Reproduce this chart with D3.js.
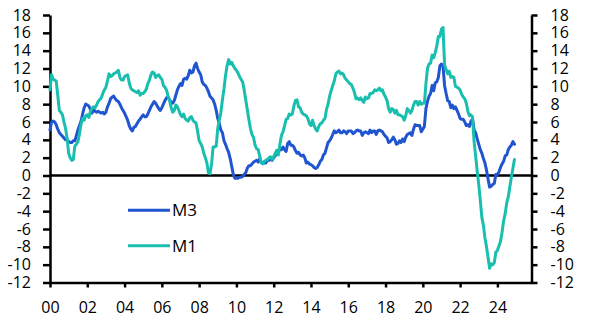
<!DOCTYPE html>
<html>
<head>
<meta charset="utf-8">
<script src="https://cdn.jsdelivr.net/npm/d3@7"></script>
<style>
  html, body { margin: 0; padding: 0; background: #fff; }
  svg { display: block; }
  text { font-family: "Open Sans", "Noto Sans", sans-serif; fill: #000; }
</style>
</head>
<body>
<svg id="chart" width="591" height="331"></svg>
<script>
// ---- data (monthly, Jan 2000 - Dec 2024, % y/y) ----
const startYear = 2000;
const seriesNames = ["M3", "M1"];
const seriesColors = ["#2155d0", "#19bfae"];

const m3 = [
  5.1, 6.0, 6.1, 6.0, 5.7, 5.2, 4.8, 4.6, 4.4, 4.2, 4.0, 4.0,
  3.8, 3.7, 3.7, 3.9, 3.9, 4.5, 5.1, 5.6, 6.1, 6.9, 7.6, 8.0,
  7.9, 7.8, 7.4, 7.0, 7.4, 7.2, 7.1, 7.2, 7.1, 7.0, 7.1, 6.9,
  7.1, 7.7, 8.1, 8.6, 8.8, 8.9, 8.6, 8.4, 8.3, 8.0, 7.6, 7.3,
  7.0, 6.6, 6.2, 5.6, 5.2, 5.0, 5.4, 5.5, 5.8, 6.1, 6.3, 6.6,
  6.8, 6.6, 6.6, 6.9, 7.3, 7.7, 8.0, 8.3, 8.1, 7.8, 7.5, 7.3,
  7.6, 8.0, 8.4, 8.7, 8.8, 8.5, 8.2, 8.1, 8.4, 9.0, 9.6, 10.0,
  10.3, 10.1, 10.8, 10.9, 10.8, 11.2, 11.8, 11.5, 11.6, 12.3, 12.6, 12.0,
  11.6, 11.3, 10.5, 10.2, 10.1, 9.8, 9.4, 8.9, 8.7, 8.5, 8.0, 7.3,
  6.4, 5.8, 5.1, 4.8, 3.9, 3.5, 3.0, 2.6, 1.9, 1.0, 0.1, -0.3,
  -0.3, -0.3, -0.2, -0.2, -0.1, 0.1, 0.3, 0.8, 1.1, 1.1, 1.3, 1.5,
  1.6, 1.7, 1.5, 1.9, 1.5, 1.4, 1.4, 1.4, 1.8, 1.7, 1.9, 1.7,
  2.0, 2.2, 2.8, 2.6, 3.0, 2.9, 3.2, 2.9, 2.7, 3.6, 3.8, 3.4,
  3.4, 3.2, 2.8, 2.5, 2.6, 2.3, 2.2, 2.3, 2.0, 1.4, 1.5, 1.3,
  1.2, 1.1, 0.9, 0.8, 0.9, 1.2, 1.6, 1.8, 2.3, 2.5, 3.1, 3.7,
  3.9, 4.2, 4.6, 5.0, 4.8, 4.9, 5.1, 4.8, 4.8, 5.0, 4.9, 4.7,
  5.0, 5.0, 5.0, 4.7, 4.8, 5.0, 5.1, 5.0, 5.0, 4.5, 4.8, 4.9,
  4.8, 4.7, 5.1, 4.8, 5.0, 5.0, 4.6, 5.0, 5.1, 5.0, 4.9, 4.6,
  4.4, 4.2, 3.7, 3.8, 4.0, 4.3, 4.0, 3.5, 3.6, 3.9, 3.7, 4.1,
  3.8, 4.3, 4.6, 4.7, 4.8, 4.5, 5.2, 5.7, 5.6, 5.6, 5.6, 4.9,
  5.2, 5.5, 7.5, 8.3, 8.9, 9.2, 10.1, 9.5, 10.4, 10.5, 11.0, 12.3,
  12.5, 12.3, 10.1, 9.2, 8.4, 8.3, 7.6, 7.9, 7.5, 7.7, 7.3, 6.9,
  6.4, 6.3, 6.3, 6.0, 5.6, 5.7, 5.5, 6.1, 6.3, 5.1, 4.8, 4.1,
  3.5, 2.9, 2.5, 1.9, 1.4, 0.6, -0.4, -1.3, -1.2, -1.0, -0.9, 0.1,
  0.1, 0.4, 0.9, 1.3, 1.6, 2.2, 2.3, 2.9, 3.2, 3.4, 3.8, 3.5
];

const m1 = [
  9.6, 11.3, 10.8, 10.7, 10.6, 9.0, 7.3, 7.1, 6.8, 6.0, 5.3, 4.2,
  2.5, 2.0, 1.7, 1.8, 3.3, 3.5, 3.8, 4.7, 5.8, 6.4, 6.2, 6.7,
  6.8, 6.5, 7.2, 7.5, 7.7, 7.6, 7.9, 8.3, 8.5, 8.7, 9.2, 9.6,
  9.9, 10.6, 11.4, 11.1, 11.2, 11.4, 11.5, 11.6, 11.8, 11.0, 10.7, 10.7,
  11.1, 11.2, 11.3, 10.4, 9.8, 9.6, 9.5, 9.4, 9.3, 9.5, 9.0, 9.2,
  9.2, 9.4, 9.7, 10.3, 10.7, 11.3, 11.6, 11.5, 11.0, 11.2, 11.3, 11.0,
  10.8, 10.1, 9.9, 9.6, 8.9, 8.4, 7.6, 7.1, 7.3, 7.9, 7.7, 7.3,
  6.8, 6.6, 6.9, 6.4, 6.2, 6.1, 6.5, 6.6, 6.2, 6.0, 5.9, 5.0,
  3.9, 3.6, 3.2, 2.5, 2.0, 1.4, 0.3, 0.2, 1.3, 3.2, 3.2, 3.3,
  5.3, 6.2, 7.1, 8.5, 9.7, 11.2, 12.3, 13.0, 12.5, 12.7, 12.3, 12.0,
  11.8, 11.5, 11.1, 10.8, 10.5, 9.6, 8.5, 7.4, 6.3, 5.3, 4.6, 4.3,
  3.4, 3.0, 2.9, 2.2, 1.4, 1.3, 1.6, 1.7, 1.8, 2.0, 2.1, 1.8,
  2.1, 2.5, 2.8, 2.3, 3.5, 4.5, 4.9, 5.6, 6.3, 6.4, 6.9, 6.8,
  6.9, 7.8, 8.4, 8.5, 7.7, 7.6, 7.1, 6.9, 6.8, 6.7, 6.4, 5.8,
  5.6, 6.2, 5.6, 5.2, 5.0, 5.5, 5.8, 5.9, 6.2, 6.4, 7.4, 8.0,
  8.9, 9.5, 10.1, 10.6, 11.4, 11.6, 11.7, 11.4, 11.5, 11.3, 10.9, 10.7,
  10.5, 10.3, 10.2, 9.8, 9.3, 8.6, 8.7, 8.5, 8.7, 8.4, 8.2, 8.8,
  8.6, 8.7, 9.2, 9.2, 9.3, 9.6, 9.5, 9.6, 9.8, 9.5, 9.6, 9.1,
  8.8, 8.4, 7.5, 7.1, 7.5, 7.4, 7.0, 7.3, 6.8, 6.8, 6.7, 6.6,
  6.2, 6.7, 7.5, 7.3, 7.0, 7.3, 7.9, 8.3, 8.3, 7.9, 8.3, 8.0,
  8.1, 8.1, 10.3, 12.0, 12.5, 12.6, 13.5, 13.2, 13.8, 14.5, 15.6, 15.6,
  16.4, 16.6, 12.4, 11.9, 11.4, 11.7, 11.0, 11.1, 11.0, 10.0, 9.9, 9.8,
  9.6, 9.1, 8.8, 8.6, 8.1, 7.2, 6.7, 6.8, 6.6, 3.8, 2.2, 0.5,
  -1.0, -2.8, -4.7, -5.6, -7.0, -8.0, -9.2, -10.4, -9.9, -10.0, -9.8, -8.6,
  -8.4, -7.9, -7.4, -6.4, -5.1, -4.3, -3.1, -2.4, -1.3, -0.2, 0.8, 1.8
];

const xTickValues = [2000, 2002, 2004, 2006, 2008, 2010, 2012, 2014, 2016, 2018, 2020, 2022, 2024];
const xTickLabels = ["00", "02", "04", "06", "08", "10", "12", "14", "16", "18", "20", "22", "24"];
const yTickValues = [-12, -10, -8, -6, -4, -2, 0, 2, 4, 6, 8, 10, 12, 14, 16, 18];

// ---- layout ----
const svg = d3.select("#chart");
const L = 50, R = 531.5, T = 15, B = 282.5;

const x = d3.scaleLinear().domain([2000, 2025.83]).range([L, R]);
const y = d3.scaleLinear().domain([-12, 18]).range([B, T]);

const axisStroke = 2.5;
const fontSize = "16px";

// left axis
const gl = svg.append("g").attr("transform", `translate(${L},0)`)
  .call(d3.axisLeft(y).tickValues(yTickValues).tickSizeInner(7).tickSizeOuter(0).tickPadding(12)
    .tickFormat(d => d));
// right axis
const gr = svg.append("g").attr("transform", `translate(${R},0)`)
  .call(d3.axisRight(y).tickValues(yTickValues).tickSizeInner(6).tickSizeOuter(0).tickPadding(13)
    .tickFormat(d => d));
// bottom axis
const gb = svg.append("g").attr("transform", `translate(0,${B})`)
  .call(d3.axisBottom(x).tickValues(xTickValues).tickSizeInner(5).tickSizeOuter(0).tickPadding(14)
    .tickFormat((d, i) => xTickLabels[i]));

[gl, gr, gb].forEach(g => {
  g.select(".domain").attr("stroke", "#000").attr("stroke-width", axisStroke);
  g.selectAll(".tick line").attr("stroke", "#000").attr("stroke-width", axisStroke);
  g.selectAll(".tick text").style("font-size", fontSize).attr("fill", "#000")
    .style("font-family", '"Open Sans", "Noto Sans", sans-serif');
});

// zero line
svg.append("line")
  .attr("x1", x(2000)).attr("x2", R)
  .attr("y1", y(0)).attr("y2", y(0))
  .attr("stroke", "#000").attr("stroke-width", axisStroke);

// series
const seriesData = [m3, m1];
const line = d3.line()
  .x((d, i) => x(startYear + i / 12))
  .y(d => y(d))
  .curve(d3.curveLinear);

seriesData.forEach((vals, k) => {
  svg.append("path")
    .datum(vals)
    .attr("fill", "none")
    .attr("stroke", seriesColors[k])
    .attr("stroke-width", 3)
    .attr("stroke-linejoin", "round")
    .attr("stroke-linecap", "round")
    .attr("d", line);
});

// legend
const legendY = [-4, -8];
seriesNames.forEach((name, k) => {
  const ly = y(legendY[k]) - 1;
  svg.append("line")
    .attr("x1", 128).attr("x2", 170)
    .attr("y1", ly).attr("y2", ly)
    .attr("stroke", seriesColors[k]).attr("stroke-width", 3);
  svg.append("text")
    .attr("x", 172).attr("y", ly)
    .attr("dy", "0.35em")
    .style("font-size", "17px")
    .text(name);
});
</script>
</body>
</html>
